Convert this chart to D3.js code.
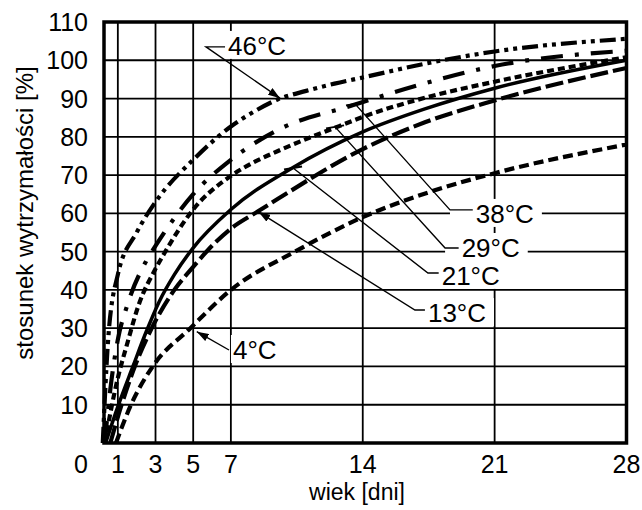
<!DOCTYPE html>
<html>
<head>
<meta charset="utf-8">
<script src="https://cdn.jsdelivr.net/npm/d3@7/dist/d3.min.js"></script>
<style>
body{margin:0;background:#fff;}
text{font-family:"Liberation Sans",Arial,sans-serif;fill:#000;}
</style>
</head>
<body>
<div id="chart"></div>
<script>
let width=642;
let height=510;

// x ticks (days) and y ticks (%)
let xTicks=[1,3,5,7,14,21,28];
let yTicks=[10,20,30,40,50,60,70,80,90,100,110];

// curves: [day, strength %]
let series=["4°C","13°C","21°C","29°C","38°C","46°C"];
let c4=[[0.9,0],[1.7,10],[2.85,20],[4.85,30],[7,40],[10.4,50],[14,59],[17.5,65.5],[21,70.5],[28,78]];
let c13=[[0.6,0],[1.2,10],[1.9,20],[2.8,30],[4,40],[5,46],[5.8,50.5],[7,56],[8.4,60.4],[9.5,63.8],[14,76.8],[17.3,83.8],[21,89.5],[28,98]];
let c21=[[0.35,0],[1,9.5],[1.8,20],[2.5,29],[3.2,37],[4,44],[5,51],[7,61],[10.3,72],[14,81.3],[17.3,87.3],[21,92.7],[28,100]];
let c29=[[0.3,0],[1,17],[1.5,26],[2.1,36],[3,45.5],[3.4,49],[5,61],[7,69.8],[8.2,73.3],[9.5,76.3],[12.75,82.8],[14,85.2],[17.3,90.2],[21,94.4],[28,100.8]];
let c38=[[0.3,0],[0.6,14],[1,27],[1.5,36],[2.5,47.5],[3,51.5],[5,65],[7,74],[9.5,81.8],[13.5,88.3],[17.3,94],[21,98.5],[28,102.5]];
let c46=[[0.2,0],[0.5,28],[1,44],[2,55],[3,63],[5,74],[7,82.7],[8.2,86.5],[9.5,89.8],[11,92],[12.5,93.9],[14,95.5],[17.5,99.3],[21,102.3],[28,105.6]];
let curves=[c4,c13,c21,c29,c38,c46];

// line styles
let dashes={"4°C":"10,5","13°C":"18,5","21°C":null,"29°C":"7,4","38°C":"22,12,4,12","46°C":"16,5,4,5,4,5"};

// label placement (data units): text start, baseline, elbow, tip
let notes=[
  {t:"46°C",tx:6.85,ty:101.4,ex:5.68,ey:103.5,px:9.61,py:90.1,end:"arrow"},
  {t:"38°C",tx:20.0,ty:57.5,ex:18.63,ey:60.9,px:13.59,py:88.6,end:"bar"},
  {t:"29°C",tx:19.25,ty:48.6,ex:18.37,ey:50.95,px:12.53,py:82.6,end:"bar"},
  {t:"21°C",tx:18.19,ty:41.3,ex:17.46,ey:44.4,px:10.3,py:71.85,end:"bar"},
  {t:"13°C",tx:17.46,ty:31.6,ex:16.77,ey:34.75,px:8.46,py:60.4,end:"arrow"},
  {t:"4°C",tx:7.11,ty:21.95,ex:6.9,ey:24.3,px:5.19,py:29.1,end:"arrow"}
];

let svg=d3.select("#chart").append("svg").attr("width",width).attr("height",height);

let x=d3.scaleLinear().domain([0,28]).range([99,626.5]);
let y=d3.scaleLinear().domain([0,110]).range([443,22]);
let plotLeft=104;

svg.append("defs").append("marker")
  .attr("id","arr").attr("markerUnits","userSpaceOnUse")
  .attr("markerWidth",13).attr("markerHeight",8)
  .attr("refX",12).attr("refY",4)
  .attr("orient","auto-start-reverse")
  .append("path").attr("d","M0,0L12,4L0,8z").attr("fill","#000");

// grid
let grid=svg.append("g").attr("stroke","#000").attr("stroke-width",1.8);
grid.selectAll(".v").data(xTicks.filter(d=>d<28)).enter().append("line")
  .attr("x1",d=>x(d)).attr("x2",d=>x(d)).attr("y1",y(0)).attr("y2",y(110));
grid.selectAll(".h").data(yTicks.filter(d=>d<110)).enter().append("line")
  .attr("x1",plotLeft).attr("x2",x(28)).attr("y1",d=>y(d)).attr("y2",d=>y(d));

// label backgrounds hide the grid under the texts
let bg=svg.append("g");
notes.forEach(function(n){
  let left=n.t=="4°C"?x(n.tx)-2:Math.min(x(n.ex),x(n.tx)-3);
  bg.append("rect").attr("class","bg").datum(n)
    .attr("x",left).attr("y",y(n.ty)-24).attr("height",28)
    .attr("fill","#fff");
});

// frame
svg.append("rect").attr("x",plotLeft).attr("y",y(110))
  .attr("width",x(28)-plotLeft).attr("height",y(0)-y(110))
  .attr("fill","none").attr("stroke","#000").attr("stroke-width",3.5);

// curves
let line=d3.line().x(d=>x(d[0])).y(d=>y(d[1])).curve(d3.curveMonotoneX);
svg.append("g").selectAll("path").data(curves).enter().append("path")
  .attr("d",line)
  .attr("fill","none").attr("stroke","#000")
  .attr("stroke-width",(d,i)=>series[i]=="21°C"?3.5:4.2)
  .attr("stroke-dasharray",(d,i)=>dashes[series[i]]);

// labels + leaders
let lab=svg.append("g");
notes.forEach(function(n){
  let txt=lab.append("text").text(n.t).attr("x",x(n.tx)).attr("y",y(n.ty))
    .attr("font-size",26);
  let w=txt.node().getComputedTextLength();
  bg.selectAll(".bg").filter(d=>d===n).attr("width",function(){
    return x(n.tx)+w+8-(+d3.select(this).attr("x"));
  });
  let pts=[[x(n.px),y(n.py)],[x(n.ex),y(n.ey)]];
  if(n.t!="4°C") pts.push([x(n.tx)-3,y(n.ey)]);
  let p=lab.append("path").attr("d",d3.line()(pts))
    .attr("fill","none").attr("stroke","#000").attr("stroke-width",1.4);
  if(n.end=="arrow"){
    p.attr("marker-start","url(#arr)");
  } else {
    lab.append("line").attr("x1",x(n.px)-9).attr("x2",x(n.px)+9)
      .attr("y1",y(n.py)+1.5).attr("y2",y(n.py)-1.5)
      .attr("stroke","#000").attr("stroke-width",2);
  }
});

// tick labels
svg.append("g").selectAll("text").data(yTicks).enter().append("text")
  .attr("x",88).attr("y",d=>y(d)).attr("dy","0.36em")
  .attr("text-anchor","end").attr("font-size",25).text(d=>d);
svg.append("g").selectAll("text").data(xTicks).enter().append("text")
  .attr("x",d=>x(d)).attr("y",y(0)+30)
  .attr("text-anchor","middle").attr("font-size",25).text(d=>d);
svg.append("text").attr("x",88).attr("y",y(0)+30)
  .attr("text-anchor","end").attr("font-size",25).text("0");

// axis titles
svg.append("text").text("wiek [dni]")
  .attr("x",357).attr("y",500).attr("text-anchor","middle").attr("font-size",23);
svg.append("text").text("stosunek wytrzymałości [%]")
  .attr("transform","translate(33,213) rotate(-90)")
  .attr("text-anchor","middle").attr("font-size",24);
</script>
</body>
</html>
